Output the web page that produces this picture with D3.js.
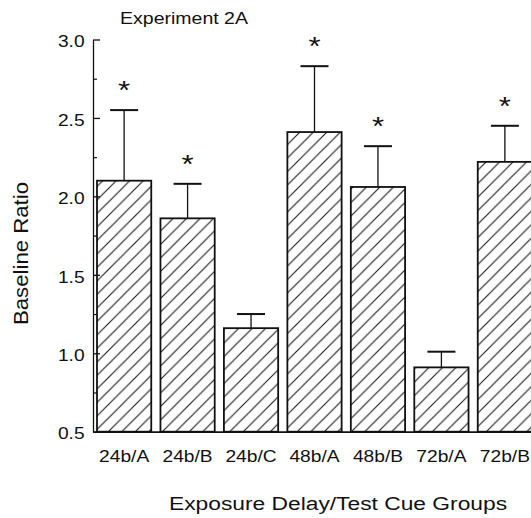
<!DOCTYPE html>
<html>
<head>
<meta charset="utf-8">
<script src="https://cdn.jsdelivr.net/npm/d3@7"></script>
<style>
  html, body { margin: 0; padding: 0; background: #fff; }
  svg { display: block; }
  text { font-family: "Liberation Sans", Arial, Helvetica, sans-serif; fill: #111; }
</style>
</head>
<body>
<script>
// ---- data ----
const categories = ["24b/A", "24b/B", "24b/C", "48b/A", "48b/B", "72b/A", "72b/B"];
const means      = [2.10, 1.86, 1.16, 2.41, 2.06, 0.91, 2.22];
const sems       = [0.45, 0.22, 0.09, 0.42, 0.26, 0.10, 0.23];
const significant = [true, true, false, true, true, false, true];
const yTicks     = [0.5, 1.0, 1.5, 2.0, 2.5, 3.0];
const yMinorTicks = [0.75, 1.25, 1.75, 2.25, 2.75];
const title = "Experiment 2A";
const xTitle = "Exposure Delay/Test Cue Groups";
const yTitle = "Baseline Ratio";

const W = 531, H = 518;
const svg = d3.select("body").append("svg").attr("width", W).attr("height", H);

// hatch pattern
const defs = svg.append("defs");
const pat = defs.append("pattern")
  .attr("id", "hatch").attr("patternUnits", "userSpaceOnUse")
  .attr("width", 13.5).attr("height", 13.5);
pat.append("rect").attr("width", 13.5).attr("height", 13.5).attr("fill", "#fff");
pat.append("path")
  .attr("d", "M-2,2 L2,-2 M0,13.5 L13.5,0 M11.5,15.5 L15.5,11.5")
  .attr("stroke", "#1a1a1a").attr("stroke-width", 1.1);

// scales
const x = d3.scaleBand().domain(categories).range([93, 536])
  .paddingInner(0.145).paddingOuter(0.063);
const y = d3.scaleLinear().domain([0.5, 3.0]).range([431.7, 39.5]);

const rows = categories.map((c, i) => ({ c, m: means[i], e: sems[i], s: significant[i] }));

// bars
svg.append("g").selectAll("rect").data(rows).join("rect")
  .attr("x", d => x(d.c))
  .attr("y", d => y(d.m))
  .attr("width", x.bandwidth())
  .attr("height", d => y(0.5) - y(d.m))
  .attr("fill", "url(#hatch)")
  .attr("stroke", "#111").attr("stroke-width", 1.8);

// error bars
const eg = svg.append("g").attr("stroke", "#111");
eg.selectAll("line.stem").data(rows).join("line").attr("class", "stem")
  .attr("x1", d => x(d.c) + x.bandwidth() / 2).attr("x2", d => x(d.c) + x.bandwidth() / 2)
  .attr("y1", d => y(d.m)).attr("y2", d => y(d.m + d.e))
  .attr("stroke-width", 1.3);
eg.selectAll("line.cap").data(rows).join("line").attr("class", "cap")
  .attr("x1", d => x(d.c) + x.bandwidth() / 2 - 14).attr("x2", d => x(d.c) + x.bandwidth() / 2 + 14)
  .attr("y1", d => y(d.m + d.e)).attr("y2", d => y(d.m + d.e))
  .attr("stroke-width", 2);

// asterisks
svg.append("g").selectAll("text").data(rows.filter(d => d.s)).join("text")
  .attr("transform", d => `translate(${x(d.c) + x.bandwidth() / 2},${y(d.m + d.e) - 11}) scale(1.2,1)`)
  .attr("text-anchor", "middle")
  .attr("font-size", 26)
  .text("*");

// y axis
const yAxis = svg.append("g").attr("transform", "translate(93,0)")
  .call(d3.axisLeft(y).tickValues(yTicks).tickFormat(d3.format(".1f"))
    .tickSizeInner(-7).tickSizeOuter(0).tickPadding(7));
yAxis.selectAll("text").attr("font-size", 16).attr("transform", "scale(1.2,1)")
  .attr("dy", "0.45em").style("font-family", '"Liberation Sans", Arial, sans-serif').attr("fill", "#111");
yAxis.selectAll("line, path").attr("stroke", "#111").attr("stroke-width", 1.3);

const yMinor = svg.append("g").attr("transform", "translate(93,0)")
  .call(d3.axisLeft(y).tickValues(yMinorTicks).tickFormat("")
    .tickSizeInner(-4).tickSizeOuter(0));
yMinor.select("path").remove();
yMinor.selectAll("line").attr("stroke", "#111").attr("stroke-width", 1.2);

// x axis
const xAxis = svg.append("g").attr("transform", `translate(0,${y(0.5)})`)
  .call(d3.axisBottom(x).tickSize(0).tickSizeOuter(0).tickPadding(19));
xAxis.select("path").attr("stroke", "#111").attr("stroke-width", 1.8);
xAxis.selectAll("text").attr("font-size", 16).attr("transform", "scale(1.2,1)")
  .style("font-family", '"Liberation Sans", Arial, sans-serif').attr("fill", "#111");

// titles
svg.append("text").attr("transform", "translate(184,24) scale(1.22,1)")
  .attr("text-anchor", "middle").attr("font-size", 16).text(title);
svg.append("text").attr("transform", "translate(338,510) scale(1.2,1)")
  .attr("text-anchor", "middle").attr("font-size", 19).text(xTitle);
svg.append("text").attr("transform", "translate(28,253.5) rotate(-90) scale(1.11,1)")
  .attr("text-anchor", "middle").attr("font-size", 20).text(yTitle);
</script>
</body>
</html>
